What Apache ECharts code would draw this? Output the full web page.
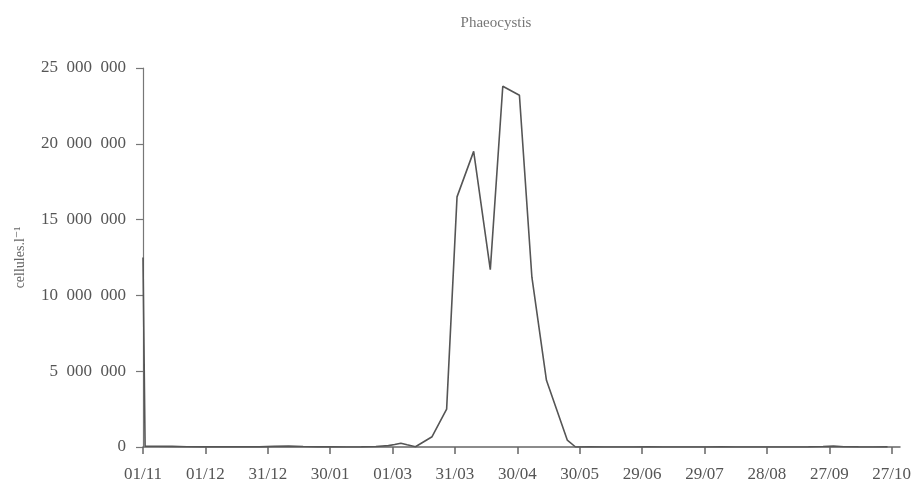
<!DOCTYPE html>
<html>
<head>
<meta charset="utf-8">
<script src="https://cdn.jsdelivr.net/npm/echarts@6/dist/echarts.min.js"></script>
<style>
html,body{margin:0;padding:0;background:#fff;}
#chart{width:916px;height:486px;}
</style>
</head>
<body>
<div id="chart"></div>
<script>
// Days since 01/11 and cell counts (cellules.l-1)
const days = [0, 1, 7, 14, 21, 28, 35, 42, 49, 56, 63, 70, 77, 84, 91, 98, 105, 112, 118, 121, 124, 127, 131, 139, 146, 151, 159, 167, 173, 181, 187, 194, 204, 208, 215, 222, 229, 236, 243, 250, 257, 264, 271, 278, 285, 292, 299, 306, 313, 320, 327, 332, 337, 344, 351, 358];
const values = [12500000, 60000, 50000, 40000, 20000, 8000, 5000, 8000, 5000, 5000, 40000, 60000, 30000, 5000, 5000, 3000, 5000, 30000, 90000, 160000, 250000, 150000, 20000, 680000, 2500000, 16500000, 19500000, 11700000, 23800000, 23200000, 11200000, 4400000, 460000, 0, 5000, 3000, 2000, 3000, 5000, 3000, 2000, 3000, 4000, 5000, 3000, 2000, 3000, 4000, 3000, 5000, 30000, 60000, 20000, 5000, 3000, 5000];
const tickLabels = ['01/11', '01/12', '31/12', '30/01', '01/03', '31/03', '30/04', '30/05', '29/06', '29/07', '28/08', '27/09', '27/10'];
const tickDays = tickLabels.map((_, i) => i * 30);
const titleText = 'Phaeocystis';
const yName = 'cellules.l\u207B\u00B9';

const chart = echarts.init(document.getElementById('chart'));
const font = '"Liberation Serif", "DejaVu Serif", serif';
chart.setOption({
  animation: false,
  backgroundColor: '#fff',
  title: {
    text: titleText,
    left: 491, top: 11, textAlign: 'center',
    textStyle: {fontFamily: font, fontSize: 15, fontWeight: 'normal', color: '#777'}
  },
  grid: {left: 143, right: 16, top: 68, bottom: 39},
  xAxis: {
    type: 'value', min: 0, max: 364, interval: 30,
    axisLine: {lineStyle: {color: '#666', width: 1.5}},
    axisTick: {show: true, length: 7, customValues: tickDays, lineStyle: {color: '#666', width: 1.5}},
    splitLine: {show: false},
    axisLabel: {
      fontFamily: font, fontSize: 17, color: '#555', margin: 19,
      customValues: tickDays,
      formatter: v => tickLabels[Math.round(v / 30)] || ''
    }
  },
  yAxis: {
    type: 'value', min: 0, max: 25000000, interval: 5000000,
    name: yName, nameLocation: 'middle', nameGap: 116, nameRotate: 90,
    nameTextStyle: {fontFamily: font, fontSize: 14, color: '#666'},
    axisLine: {show: true, lineStyle: {color: '#777', width: 1.2}},
    axisTick: {show: true, length: 7, lineStyle: {color: '#777', width: 1.2}},
    splitLine: {show: false},
    axisLabel: {
      fontFamily: font, fontSize: 17, color: '#555', margin: 17,
      formatter: v => String(v).replace(/\B(?=(\d{3})+(?!\d))/g, '\u2002')
    }
  },
  series: [{
    type: 'line',
    data: days.map((d, i) => [d, values[i]]),
    showSymbol: false,
    lineStyle: {color: '#555', width: 1.6},
    z: 3
  }]
});
</script>
</body>
</html>
